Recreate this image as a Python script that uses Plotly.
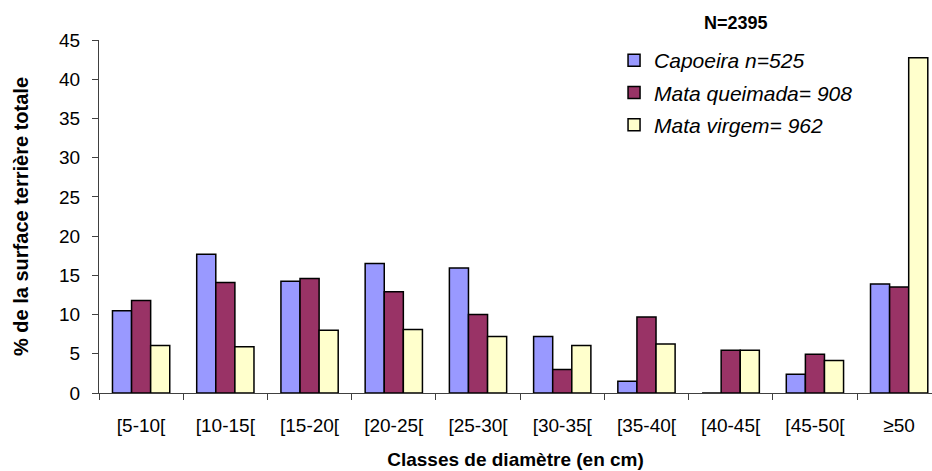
import plotly.graph_objects as go

categories = ["[5-10[", "[10-15[", "[15-20[", "[20-25[", "[25-30[", "[30-35[", "[35-40[", "[40-45[", "[45-50[", "≥50"]
capoeira = [10.5, 17.7, 14.25, 16.5, 15.95, 7.2, 1.5, 0.0, 2.4, 13.9]
mata_queimada = [11.8, 14.1, 14.6, 12.9, 10.0, 3.0, 9.7, 5.45, 4.95, 13.5]
mata_virgem = [6.05, 5.9, 8.0, 8.1, 7.2, 6.05, 6.25, 5.45, 4.15, 42.75]
series_names = ["Capoeira n=525", "Mata queimada= 908", "Mata virgem= 962"]
colors = ["#9999FF", "#993366", "#FFFFCC"]

fig = go.Figure()
for i, (name, vals) in enumerate(zip(series_names, [capoeira, mata_queimada, mata_virgem])):
    fig.add_trace(go.Bar(
        x=categories, y=vals, name=name, legendgroup=f"g{i}",
        marker=dict(color=colors[i], line=dict(color="#000000", width=1.5)),
    ))

font_family = "Liberation Sans, Arial, sans-serif"
fig.update_layout(
    width=932, height=471,
    margin=dict(l=99, r=0, t=40, b=77.5),
    paper_bgcolor="white", plot_bgcolor="white",
    barmode="group", bargap=0.32, bargroupgap=0,
    font=dict(family=font_family, size=18, color="#000000"),
    showlegend=True,
    legend=dict(
        x=0.6183, xanchor="left", y=1.0, yanchor="top",
        font=dict(family=font_family, size=21, color="#000000", style="italic"),
        bgcolor="rgba(0,0,0,0)", traceorder="grouped", tracegroupgap=2,
    ),
    xaxis=dict(
        range=[-0.5, 9.39], automargin=False,
        showline=True, linecolor="#404040", linewidth=1,
        ticks="outside", tickson="boundaries", ticklen=6, tickcolor="#404040",
        tickfont=dict(size=19), ticklabelstandoff=15,
        title=dict(text="<b>Classes de diamètre (en cm)</b>", font=dict(size=19), standoff=17),
        showgrid=False, zeroline=False,
    ),
    yaxis=dict(
        range=[0, 45], tickvals=list(range(0, 46, 5)), automargin=False,
        showline=True, linecolor="#404040", linewidth=1,
        ticks="outside", ticklen=6, tickcolor="#404040",
        tickfont=dict(size=19), ticklabelstandoff=8,
        title=dict(text="<b>% de la surface terrière totale</b>", font=dict(size=20), standoff=25),
        showgrid=False, zeroline=False,
    ),
    annotations=[dict(
        text="<b>N=2395</b>", x=0.7647, y=1.0, xref="paper", yref="paper",
        xanchor="center", yanchor="middle", yshift=17, showarrow=False,
        font=dict(family=font_family, size=18, color="#000000"),
    )],
)

fig.write_html("out.html", config={"displayModeBar": False},
               post_script="document.body.style.margin='0';document.body.style.padding='0';")
